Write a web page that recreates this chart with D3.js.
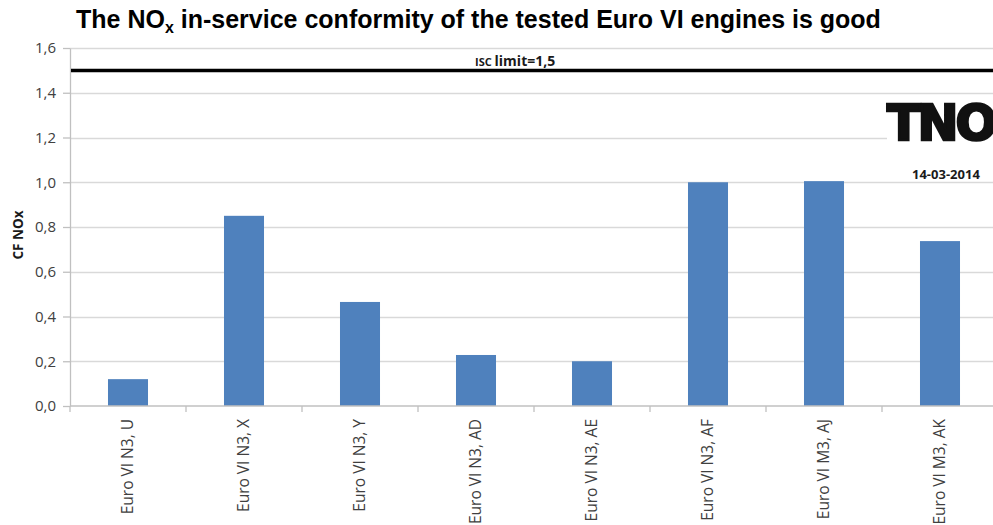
<!DOCTYPE html>
<html>
<head>
<meta charset="utf-8">
<script src="https://cdn.jsdelivr.net/npm/d3@7"></script>
<style>
  body { margin: 0; background: #fff; }
  svg { display: block; }
  .tick text { font-family: "Open Sans", Lato, sans-serif; fill: #404040; }
</style>
</head>
<body>
<div id="chart"></div>
<script>
// data
const engines = ["Euro VI N3, U", "Euro VI N3, X", "Euro VI N3, Y", "Euro VI N3, AD",
                 "Euro VI N3, AE", "Euro VI N3, AF", "Euro VI M3, AJ", "Euro VI M3, AK"]
const cfNox = [0.12, 0.85, 0.465, 0.228, 0.20, 1.0, 1.005, 0.737]
const yTicks = [0, 0.2, 0.4, 0.6, 0.8, 1.0, 1.2, 1.4, 1.6]
const iscLimit = 1.5

//container with dimensions
let width = 993,
    height = 525,
    margin = { top: 48, right: -5, bottom: 119, left: 70 }

let svg = d3.select("#chart")
    .append("svg")
    .attr("width", width)
    .attr("height", height)

//scales
let x = d3.scaleBand()
    .domain(engines)
    .range([margin.left, width - margin.right])
    .paddingInner(0.655)
    .paddingOuter(0.3275)

let xTicks = d3.scaleBand()
    .domain(engines)
    .range([margin.left, width - margin.right])

let y = d3.scaleLinear()
    .domain([0, 1.6])
    .range([height - margin.bottom, margin.top])

//gridlines
svg.append("g")
    .selectAll("line")
    .data(yTicks.filter(d => d > 0))
    .enter().append("line")
    .attr("x1", margin.left)
    .attr("x2", d => d === 1.2 ? 887 : width)
    .attr("y1", d => Math.round(y(d)) + 0.5)
    .attr("y2", d => Math.round(y(d)) + 0.5)
    .style("stroke", "#d9d9d9")
    .style("stroke-width", 1.3)

//bars
svg.append("g")
    .selectAll("rect")
    .data(cfNox)
    .enter().append("rect")
    .attr("x", (d, i) => x(engines[i]))
    .attr("y", d => y(d))
    .attr("width", x.bandwidth())
    .attr("height", d => y(0) - y(d))
    .style("fill", "#4f81bd")

//y axis
let yAxis = svg.append("g")
    .attr("transform", `translate(${margin.left},0)`)
    .call(d3.axisLeft(y).tickValues(yTicks).tickFormat(d => d3.format(".1f")(d).replace(".", ",")).tickSize(7).tickPadding(7).tickSizeOuter(0))
yAxis.selectAll("text").style("font-size", "15px")
yAxis.selectAll("line, path").style("stroke", "#c0c0c0").style("stroke-width", 1.3)

//x axis with ticks between categories
let xAxis = svg.append("g")
    .attr("transform", `translate(0,${y(0)})`)
xAxis.append("line")
    .attr("x1", margin.left).attr("x2", width)
    .style("stroke", "#c0c0c0").style("stroke-width", 1.3)
xAxis.selectAll(".sep")
    .data(engines)
    .enter().append("line")
    .attr("class", "sep")
    .attr("x1", d => xTicks(d)).attr("x2", d => xTicks(d))
    .attr("y1", 0).attr("y2", 6)
    .style("stroke", "#c0c0c0").style("stroke-width", 1.3)
xAxis.selectAll(".lbl")
    .data(engines)
    .enter().append("text")
    .attr("class", "lbl")
    .attr("transform", d => `translate(${x(d) + x.bandwidth() / 2 + 5},13) rotate(-90)`)
    .attr("text-anchor", "end")
    .style("font-family", "'Open Sans', Lato, sans-serif")
    .style("font-size", "15.5px")
    .style("fill", "#404040")
    .text(d => d)

//ISC limit line
svg.append("line")
    .attr("x1", margin.left + 1)
    .attr("x2", width)
    .attr("y1", y(iscLimit))
    .attr("y2", y(iscLimit))
    .style("stroke", "#000")
    .style("stroke-width", 3.5)

let isc = svg.append("text")
    .attr("x", 475)
    .attr("y", 66)
    .style("font-family", "'Open Sans', sans-serif")
    .style("font-weight", "bold")
    .style("font-size", "14px")
    .style("fill", "#1a1a1a")
isc.append("tspan").style("font-size", "11px").text("ISC ")
isc.append("tspan").text("limit=1,5")

//y label
svg.append("text")
    .attr("transform", `translate(23,${(y(0) + y(1.6)) / 2 + 8}) rotate(-90)`)
    .attr("text-anchor", "middle")
    .style("font-family", "'Open Sans', sans-serif")
    .style("font-weight", "bold")
    .style("font-size", "13.5px")
    .style("fill", "#1a1a1a")
    .text("CF NOx")

//title
let title = svg.append("text")
    .attr("x", 76)
    .attr("y", 28)
    .style("font-family", "'Liberation Sans', Arial, sans-serif")
    .style("font-weight", "bold")
    .style("font-size", "25px")
    .style("fill", "#000")
title.append("tspan").text("The NO")
title.append("tspan").attr("dy", 5).style("font-size", "16px").text("x")
title.append("tspan").attr("dy", -5).text(" in-service conformity of the tested Euro VI engines is good")

//TNO logo
svg.append("text")
    .attr("x", 887)
    .attr("y", 140)
    .style("font-family", "'DejaVu Sans', sans-serif")
    .style("font-weight", "bold")
    .style("font-size", "49px")
    .style("letter-spacing", "-3px")
    .style("fill", "#111")
    .style("stroke", "#111")
    .style("stroke-width", 2.5)
    .text("TNO")

//date
svg.append("text")
    .attr("x", 912)
    .attr("y", 179)
    .style("font-family", "'Open Sans', sans-serif")
    .style("font-weight", "bold")
    .style("font-size", "13px")
    .style("fill", "#1a1a1a")
    .text("14-03-2014")
</script>
</body>
</html>
